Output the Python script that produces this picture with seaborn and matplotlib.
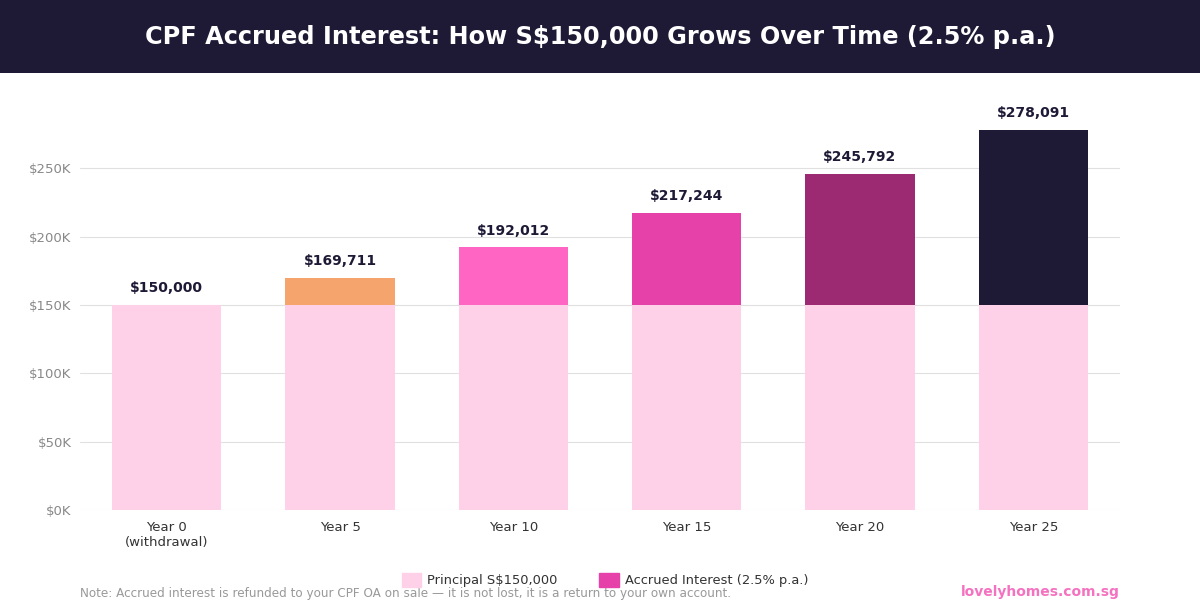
import numpy as np
import pandas as pd
import matplotlib.pyplot as plt
import matplotlib.patches as mpatches
import seaborn as sns

years = ['Year 0\n(withdrawal)', 'Year 5', 'Year 10', 'Year 15', 'Year 20', 'Year 25']
principal = [150000, 150000, 150000, 150000, 150000, 150000]
totals = [150000, 169711, 192012, 217244, 245792, 278091]
interest_colors = ['#f4a46c', '#f4a46c', '#ff66c4', '#e541a8', '#9b2a72', '#1e1a36']
principal_color = '#ffd1e8'

df = pd.DataFrame({'year': years, 'principal': principal, 'total': totals})

sns.set_style("white")
plt.rcParams['font.family'] = ['DejaVu Sans']

fig = plt.figure(figsize=(12, 6), dpi=100)
ax = fig.add_axes([80 / 1200, 90 / 600, 1040 / 1200, 417 / 600])

# totals first (interest colour), principal drawn over it
sns.barplot(data=df, x='year', y='total', hue='year', palette=interest_colors,
            width=0.63, saturation=1, legend=False, ax=ax, zorder=2, linewidth=0)
sns.barplot(data=df, x='year', y='principal', color=principal_color,
            width=0.63, saturation=1, ax=ax, zorder=3, linewidth=0)

for i, t in enumerate(totals):
    ax.annotate(f"${t:,.0f}", (i, t), xytext=(0, 7), textcoords='offset points',
                ha='center', va='bottom', fontsize=10, fontweight='bold', color='#1e1a36')

ax.set_xlim(-0.5, 5.5)
ax.set_ylim(0, 305000)
ax.set_yticks([0, 50000, 100000, 150000, 200000, 250000])
ax.set_yticklabels([f"${v // 1000}K" for v in [0, 50000, 100000, 150000, 200000, 250000]])
ax.yaxis.grid(True, color='#e0e0e0', linewidth=0.8, zorder=0)
ax.set_axisbelow(True)
sns.despine(ax=ax, left=True, bottom=True)
ax.tick_params(axis='y', labelsize=9.5, labelcolor='#888888', length=0, pad=6)
ax.tick_params(axis='x', labelsize=9.5, labelcolor='#333333', length=0, pad=8)
ax.set_xlabel('')
ax.set_ylabel('')

# header band
fig.patches.append(mpatches.Rectangle((0, 527 / 600), 1, 73 / 600, transform=fig.transFigure,
                                      facecolor='#1e1a36', edgecolor='none', zorder=0))
fig.text(0.5, 1 - 37 / 600, 'CPF Accrued Interest: How S$150,000 Grows Over Time (2.5% p.a.)',
         ha='center', va='center', fontsize=17.3, fontweight='bold', color='white')

handles = [mpatches.Patch(color=principal_color, label='Principal S$150,000'),
           mpatches.Patch(color='#e541a8', label='Accrued Interest (2.5% p.a.)')]
fig.legend(handles=handles, loc='center', bbox_to_anchor=(0.504, 1 - 580 / 600), ncol=2,
           frameon=False, fontsize=9.4, labelcolor='#333333', handlelength=1.5,
           handleheight=1.3, handletextpad=0.45, columnspacing=3.2)

fig.text(80 / 1200, 1 - 594 / 600,
         'Note: Accrued interest is refunded to your CPF OA on sale \u2014 it is not lost, it is a return to your own account.',
         ha='left', va='center', fontsize=8.65, color='#999999')
fig.text(1120 / 1200, 1 - 592 / 600, 'lovelyhomes.com.sg', ha='right', va='center',
         fontsize=10, fontweight='bold', color='#f472c0')

fig.savefig('out.png', dpi=100)
